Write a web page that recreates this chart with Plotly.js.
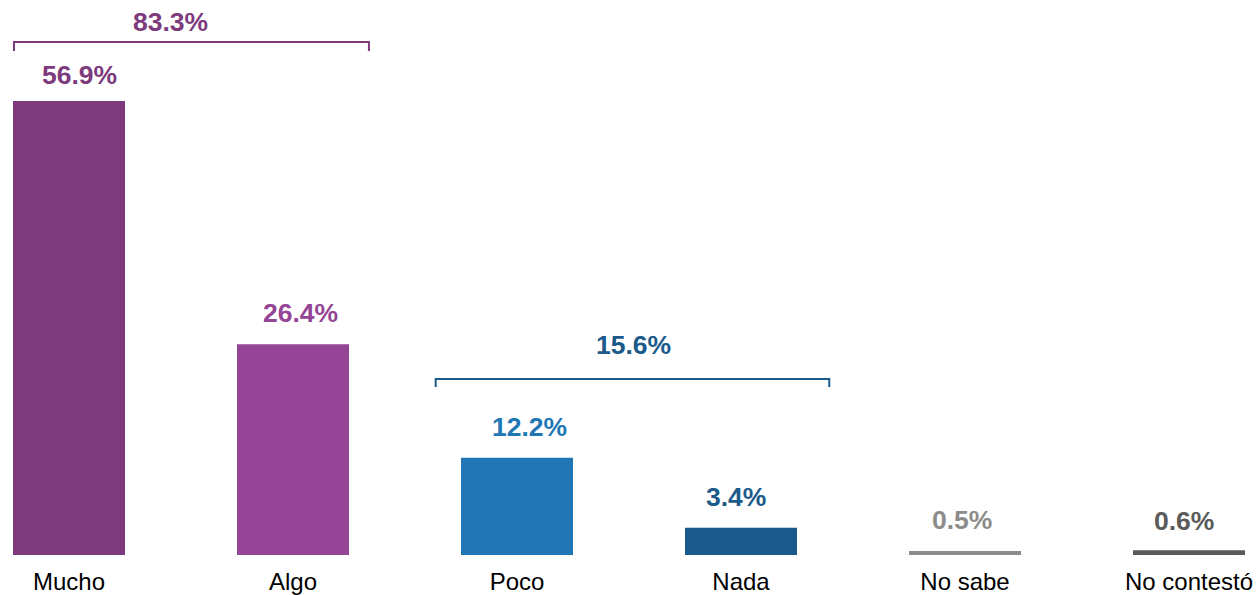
<!DOCTYPE html>
<html>
<head>
<meta charset="utf-8">
<script src="https://cdn.plot.ly/plotly-3.0.1.min.js"></script>
<style>html,body{margin:0;padding:0;background:#fff;}#chart{width:1256px;height:595px;}</style>
</head>
<body>
<div id="chart"></div>
<script>
// Data
const categories = ["Mucho", "Algo", "Poco", "Nada", "No sabe", "No contestó"];
const values = [56.9, 26.4, 12.2, 3.4, 0.5, 0.6];
const groupNames = ["Mucho + Algo", "Poco + Nada"];
const groupTotals = [83.3, 15.6];

// Styles
const barColors = ["#7D3A7D", "#954595", "#2177B5", "#1B5A8A", "#8C8C8C", "#5A5A5A"];
const labelColors = ["#7D3A7D", "#954595", "#2177B5", "#1B5A8A", "#8C8C8C", "#5A5A5A"];
const labelXShift = [10, 7, 12, -5, -3, -5];
const labelYShift = [26, 31, 31, 31, 31, 29];
const groupColors = ["#7D3A7D", "#1B5A8A"];

const fontFam = "Liberation Sans, Arial, sans-serif";

const trace = {
  type: "bar",
  x: categories,
  y: values,
  width: 0.5,
  marker: {color: barColors},
  hoverinfo: "x+y"
};

const annotations = values.map((v, i) => ({
  x: categories[i], y: v, xref: "x", yref: "y",
  text: "<b>" + v.toFixed(1) + "%</b>",
  showarrow: false, yanchor: "middle", yshift: labelYShift[i], xshift: labelXShift[i],
  font: {family: fontFam, size: 26.5, color: labelColors[i]}
}));

// Bracket geometry (positions in axis units)
const brackets = [
  {x0: -0.2455, x1: 1.339, y: 64.29, tick: 1.13, lx: 0.451, ly: 66.8},
  {x0: 1.637, x1: 3.394, y: 22.05, tick: 1.0, lx: 2.518, ly: 26.32}
];
const shapes = [];
brackets.forEach((b, i) => {
  shapes.push({
    type: "path", xref: "x", yref: "y",
    path: `M ${b.x0} ${b.y - b.tick} L ${b.x0} ${b.y} L ${b.x1} ${b.y} L ${b.x1} ${b.y - b.tick}`,
    line: {color: groupColors[i], width: 2}
  });
  annotations.push({
    x: b.lx, y: b.ly, xref: "x", yref: "y",
    text: "<b>" + groupTotals[i].toFixed(1) + "%</b>",
    showarrow: false, yanchor: "middle",
    font: {family: fontFam, size: 26.5, color: groupColors[i]}
  });
});

const layout = {
  width: 1256, height: 595,
  margin: {l: 13, r: 11, t: 0, b: 40},
  paper_bgcolor: "#ffffff", plot_bgcolor: "#ffffff",
  showlegend: false,
  xaxis: {
    type: "category", range: [-0.25, 5.25],
    showgrid: false, zeroline: false, showline: false, ticks: "",
    ticklabelstandoff: 10,
    tickfont: {family: fontFam, size: 24, color: "#000000"}
  },
  yaxis: {
    range: [0, 69.56], visible: false, showgrid: false, zeroline: false
  },
  annotations: annotations,
  shapes: shapes
};

Plotly.newPlot("chart", [trace], layout, {displayModeBar: false, staticPlot: true});
</script>
</body>
</html>
